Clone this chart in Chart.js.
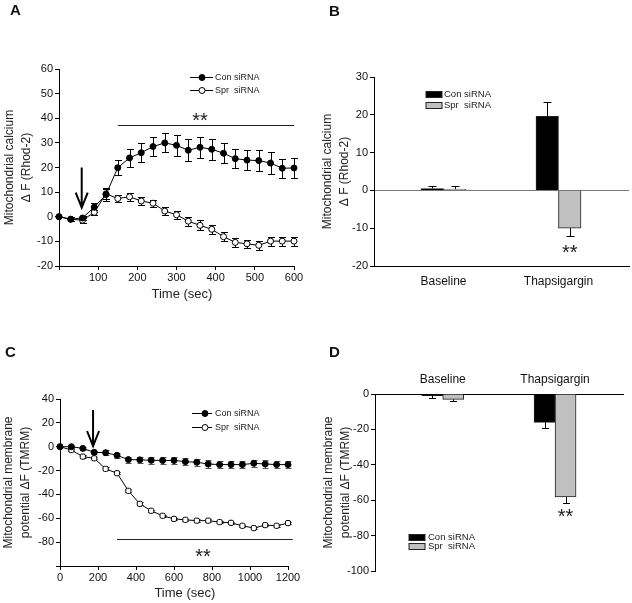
<!DOCTYPE html>
<html>
<head>
<meta charset="utf-8">
<title>Mitochondrial calcium and membrane potential</title>
<script src="https://cdn.jsdelivr.net/npm/chart.js@4.4.1/dist/chart.umd.min.js"></script>
<style>
  body { margin: 0; background: #fff; }
  #fig { position: relative; width: 632px; height: 603px; overflow: hidden; font-family: "Liberation Sans", Arial, sans-serif; }
  #fig canvas { position: absolute; left: 0; top: 0; }
  .panel { position: absolute; font-size: 15px; font-weight: bold; line-height: 1; color: #111; }
</style>
</head>
<body>
<div id="fig">
  <canvas id="chartA" width="632" height="603"></canvas>
  <canvas id="chartB" width="632" height="603"></canvas>
  <canvas id="chartC" width="632" height="603"></canvas>
  <canvas id="chartD" width="632" height="603"></canvas>
  <div class="panel" style="left:10px;top:2px">A</div>
  <div class="panel" style="left:329px;top:3px">B</div>
  <div class="panel" style="left:5px;top:344px">C</div>
  <div class="panel" style="left:329px;top:344px">D</div>
</div>
<script>
// series names
const seriesNames = ['Con siRNA', 'Spr  siRNA'];

// panel A - Rhod-2 time course (every 30 s)
const timeA = [0, 30, 60, 90, 120, 150, 180, 210, 240, 270, 300, 330, 360, 390, 420, 450, 480, 510, 540, 570, 600];
const conA = [0, -1, -0.5, 3.9, 9, 19.9, 23.9, 26, 28.5, 30, 29, 27, 28.2, 27.4, 25.8, 23.6, 23, 22.8, 21.8, 19.7, 19.8];
const conA_err = [0, 0.8, 1, 1.8, 2.5, 3, 3.5, 3.9, 3.8, 3.9, 4.3, 4.5, 4.3, 4.3, 4.1, 3.9, 4.2, 4.2, 4.3, 3.9, 3.9];
const sprA = [0, -1, -1.4, 1.8, 9.3, 7.4, 8.1, 6.4, 5.5, 2.3, 0.8, -1.8, -3.5, -5.1, -8.1, -10.4, -11, -11.6, -9.9, -9.9, -9.9];
const sprA_err = [0, 0.8, 1, 1, 2, 1.6, 1.6, 1.6, 1.5, 1.6, 1.6, 1.8, 2, 1.8, 1.8, 1.9, 1.6, 1.9, 1.8, 1.8, 1.8];

// panel C - TMRM time course (every 60 s)
const timeC = [0, 60, 120, 180, 240, 300, 360, 420, 480, 540, 600, 660, 720, 780, 840, 900, 960, 1020, 1080, 1140, 1200];
const conC = [0, 0, -1.4, -4.7, -5, -7.2, -10.8, -11, -11.4, -11.5, -11.5, -12.5, -13, -14.5, -15, -15, -15, -13.9, -14.5, -15, -15];
const conC_err = [0, 1, 1, 1.5, 2, 2, 2.5, 2.5, 3, 3, 3, 3, 3, 3, 3, 3, 3, 3, 3, 3, 3];
const sprC = [0, -2.8, -8.3, -9.7, -18.6, -22.2, -37, -47.9, -53.7, -57.9, -60.5, -61.3, -62, -62, -63.2, -63.8, -66.3, -68.2, -65.7, -66.3, -64];
const sprC_err = [0, 0.8, 1, 1, 1.2, 1, 1.2, 1.2, 1, 1, 1, 1, 1, 1, 1, 1, 1, 1, 1, 1, 1];

// panels B and D - bar summaries
const groups = ['Baseline', 'Thapsigargin'];
const conB = [0.5, 19.6];
const conB_err = [0.6, 3.9];
const sprB = [0.35, -10];
const sprB_err = [0.8, 2.1];
const conD = [-1, -16];
const conD_err = [1.1, 3.4];
const sprD = [-3, -58.2];
const sprD_err = [0.8, 3.1];

Chart.defaults.font.family = '"Liberation Sans", Arial, sans-serif';
Chart.defaults.font.size = 11;
Chart.defaults.color = '#111';

const FONT = '"Liberation Sans", Arial, sans-serif';

// pin axis box sizes so the plot areas land where the figure has them
const fixBox = size => scale => {
  if (scale.isHorizontal()) scale.height = size; else scale.width = size;
};

const errorBars = {
  id: 'errorBars',
  beforeDatasetsDraw(chart, args, opts) {
    const ctx = chart.ctx;
    const ys = chart.scales.y;
    chart.data.datasets.forEach((ds, di) => {
      if (!ds.errors) return;
      const meta = chart.getDatasetMeta(di);
      ctx.save();
      ctx.strokeStyle = ds.errorColor || '#000';
      ctx.lineWidth = 1;
      meta.data.forEach((el, i) => {
        const v = ds.data[i].y;
        const e = ds.errors[i];
        if (!e) return;
        const ends = ds.errorSide === 'out' ? [v + (v < 0 ? -e : e)] : [v + e, v - e];
        const y0 = ys.getPixelForValue(v);
        ends.forEach(end => {
          const y1 = Math.round(ys.getPixelForValue(end)) + 0.5;
          const x = Math.round(el.x) + 0.5;
          ctx.beginPath();
          ctx.moveTo(x, y0);
          ctx.lineTo(x, y1);
          ctx.moveTo(x - opts.cap, y1);
          ctx.lineTo(x + opts.cap, y1);
          ctx.stroke();
        });
      });
      ctx.restore();
    });
  }
};

const marks = {
  id: 'marks',
  afterDatasetsDraw(chart, args, opts) {
    const ctx = chart.ctx;
    const xs = chart.scales.x, ys = chart.scales.y;
    ctx.save();
    ctx.strokeStyle = '#222';
    ctx.fillStyle = '#222';
    if (opts.sig) {
      const y = Math.round(ys.getPixelForValue(opts.sig.y)) + 0.5;
      ctx.lineWidth = 1;
      ctx.beginPath();
      ctx.moveTo(xs.getPixelForValue(opts.sig.from), y);
      ctx.lineTo(xs.getPixelForValue(opts.sig.to), y);
      ctx.stroke();
    }
    (opts.stars || []).forEach(s => {
      const px = s.dataset !== undefined
        ? chart.getDatasetMeta(s.dataset).data[s.index].x
        : xs.getPixelForValue(s.x);
      const py = ys.getPixelForValue(s.y);
      ctx.font = '20px ' + FONT;
      ctx.textAlign = 'center';
      ctx.textBaseline = 'alphabetic';
      ctx.fillText('**', px, py + 0.57 * 20);
    });
    if (opts.arrow) {
      const x = xs.getPixelForValue(opts.arrow.x);
      const top = ys.getPixelForValue(opts.arrow.top);
      const tip = ys.getPixelForValue(opts.arrow.tip);
      ctx.strokeStyle = '#000';
      ctx.lineWidth = 2;
      ctx.beginPath();
      ctx.moveTo(x, top);
      ctx.lineTo(x, tip);
      ctx.moveTo(x - 6, tip - 15);
      ctx.lineTo(x, tip);
      ctx.lineTo(x + 6, tip - 15);
      ctx.stroke();
    }
    ctx.restore();
  }
};

const key = {
  id: 'key',
  afterDraw(chart, args, opts) {
    const ctx = chart.ctx;
    const area = chart.chartArea;
    const x0 = area.left + opts.dx;
    ctx.save();
    ctx.font = opts.size + 'px ' + FONT;
    ctx.textBaseline = 'middle';
    ctx.textAlign = 'left';
    chart.data.datasets.forEach((ds, i) => {
      const y = Math.round(area.top + opts.dy + i * opts.gap) + 0.5;
      if (opts.kind === 'line') {
        ctx.strokeStyle = '#000';
        ctx.lineWidth = 1;
        ctx.beginPath();
        ctx.moveTo(x0, y);
        ctx.lineTo(x0 + opts.len, y);
        ctx.stroke();
        ctx.beginPath();
        ctx.arc(x0 + opts.mark, y, 3, 0, Math.PI * 2);
        ctx.fillStyle = ds.pointBackgroundColor;
        ctx.fill();
        ctx.stroke();
      } else {
        ctx.fillStyle = ds.backgroundColor;
        ctx.fillRect(x0, y - opts.h / 2, opts.w, opts.h);
        ctx.strokeStyle = '#222';
        ctx.lineWidth = 1;
        ctx.strokeRect(x0, y - opts.h / 2, opts.w, opts.h);
      }
      ctx.fillStyle = '#222';
      ctx.fillText(ds.label, x0 + opts.text, y);
    });
    ctx.restore();
  }
};

function lineSet(label, xs, ys, errs, filled, style, errColor) {
  return {
    label: label,
    data: xs.map((x, i) => ({ x: x, y: ys[i] })),
    errors: errs,
    errorColor: errColor || '#000',
    borderColor: '#000',
    borderWidth: 1,
    pointStyle: style,
    pointRadius: 3,
    pointBorderWidth: 1,
    pointBackgroundColor: filled ? '#000' : '#fff',
    pointBorderColor: '#000',
    tension: 0,
    clip: false
  };
}

function barSet(label, vals, errs, fill, thick) {
  return {
    label: label,
    data: groups.map((g, i) => ({ x: i, y: vals[i] })),
    errors: errs,
    errorSide: 'out',
    backgroundColor: fill,
    borderColor: '#222',
    borderWidth: 1,
    barThickness: thick
  };
}

const tickGrid = { drawOnChartArea: false, tickLength: 4, color: '#000', tickColor: '#000' };
const blackBorder = { color: '#000', width: 1 };

function yTitle(lines, padTop) {
  return { display: true, text: lines, color: '#222', font: { size: 12, lineHeight: 1.4 }, padding: { top: padTop, bottom: 0 } };
}

// the figure's time labels sit a little right of the plot centre
function timeTitle(lead) {
  return { display: true, text: ' '.repeat(lead) + 'Time (sec)', color: '#222', font: { size: 13 }, padding: { top: 0, bottom: 0 } };
}

const baseOpts = { responsive: false, animation: false, events: [] };

// A
new Chart(document.getElementById('chartA'), {
  type: 'line',
  data: {
    datasets: [
      lineSet(seriesNames[0], timeA, conA, conA_err, true, 'circle'),
      lineSet(seriesNames[1], timeA, sprA, sprA_err, false, 'circle')
    ]
  },
  options: Object.assign({}, baseOpts, {
    layout: { padding: { left: 0, top: 69, right: 338, bottom: 301 } },
    plugins: {
      legend: { display: false }, tooltip: { enabled: false },
      errorBars: { cap: 3.5 },
      marks: { sig: { from: 150, to: 600, y: 37.4 }, stars: [{ x: 360, y: 41 }], arrow: { x: 58, top: 20, tip: 3.7 } },
      key: { kind: 'line', dx: 131, dy: 8, gap: 13, len: 23, mark: 12, text: 25, size: 9 }
    },
    scales: {
      x: {
        type: 'linear', min: 0, max: 600,
        ticks: { stepSize: 100, padding: 1, callback: v => (v === 0 ? '' : String(v)) },
        grid: tickGrid, border: blackBorder,
        title: timeTitle(3),
        afterFit: fixBox(36)
      },
      y: {
        min: -20, max: 60,
        ticks: { stepSize: 10, padding: 2 },
        grid: tickGrid, border: blackBorder,
        title: yTitle(['Mitochondrial calcium', '\u0394 F (Rhod-2)'], 1.5),
        afterFit: fixBox(59)
      }
    }
  }),
  plugins: [errorBars, marks, key]
});

// B
new Chart(document.getElementById('chartB'), {
  type: 'bar',
  data: {
    datasets: [
      barSet(seriesNames[0], conB, conB_err, '#000', 22.5),
      barSet(seriesNames[1], sprB, sprB_err, '#c0c0c0', 22.5)
    ]
  },
  options: Object.assign({}, baseOpts, {
    layout: { padding: { left: 318, top: 77, right: 3, bottom: 307 } },
    plugins: {
      legend: { display: false }, tooltip: { enabled: false },
      errorBars: { cap: 4 },
      marks: { stars: [{ dataset: 1, index: 1, y: -15 }] },
      key: { kind: 'box', dx: 52, dy: 17, gap: 10.5, w: 16, h: 6, text: 18, size: 9.5 }
    },
    scales: {
      x: {
        type: 'linear', min: -0.604, max: 1.613, offset: false,
        afterBuildTicks: axis => { axis.ticks = groups.map((g, i) => ({ value: i })); },
        ticks: { padding: 8, font: { size: 12 }, autoSkip: false, maxRotation: 0, callback: v => groups[v] },
        grid: { display: false, drawTicks: false },
        border: blackBorder,
        afterFit: fixBox(30)
      },
      y: {
        min: -20, max: 30,
        ticks: { stepSize: 10, padding: 2 },
        grid: {
          drawOnChartArea: true, tickLength: 4, tickColor: '#000',
          color: c => (c.tick && c.tick.value === 0 ? '#777' : 'rgba(0,0,0,0)')
        },
        border: blackBorder,
        title: yTitle(['Mitochondrial calcium', '\u0394 F (Rhod-2)'], 1.2),
        afterFit: fixBox(56)
      }
    }
  }),
  plugins: [errorBars, marks, key]
});

// C
new Chart(document.getElementById('chartC'), {
  type: 'line',
  data: {
    datasets: [
      lineSet(seriesNames[0], timeC, conC, conC_err, true, 'circle', '#555'),
      lineSet(seriesNames[1], timeC, sprC, sprC_err, false, 'rectRounded')
    ]
  },
  options: Object.assign({}, baseOpts, {
    layout: { padding: { left: 0, top: 399, right: 344, bottom: 2 } },
    plugins: {
      legend: { display: false }, tooltip: { enabled: false },
      errorBars: { cap: 3 },
      marks: { sig: { from: 300, to: 1225, y: -77.4 }, stars: [{ x: 753, y: -87.7 }], arrow: { x: 174, top: 30.7, tip: 0.6 } },
      key: { kind: 'line', dx: 132, dy: 14, gap: 14, len: 20, mark: 13, text: 23, size: 9 }
    },
    scales: {
      x: {
        type: 'linear', min: 0, max: 1200,
        ticks: { stepSize: 200, padding: 1, callback: v => String(v) },
        grid: tickGrid, border: blackBorder,
        title: timeTitle(6),
        afterFit: fixBox(35)
      },
      y: {
        min: -100, max: 40,
        ticks: { stepSize: 20, padding: 2, callback: v => (v === -100 ? '' : String(v)) },
        grid: tickGrid, border: blackBorder,
        title: yTitle(['Mitochondrial membrane', 'potential \u0394F (TMRM)'], 0.5),
        afterFit: fixBox(60)
      }
    }
  }),
  plugins: [errorBars, marks, key]
});

// D
new Chart(document.getElementById('chartD'), {
  type: 'bar',
  data: {
    datasets: [
      barSet(seriesNames[0], conD, conD_err, '#000', 21),
      barSet(seriesNames[1], sprD, sprD_err, '#c0c0c0', 21)
    ]
  },
  options: Object.assign({}, baseOpts, {
    layout: { padding: { left: 319, top: 350, right: 9, bottom: 32 } },
    plugins: {
      legend: { display: false }, tooltip: { enabled: false },
      errorBars: { cap: 3.5 },
      marks: { stars: [{ dataset: 1, index: 1, y: -66.5 }] },
      key: { kind: 'box', dx: 34, dy: 143, gap: 9, w: 16, h: 6, text: 19, size: 9.5 }
    },
    scales: {
      x: {
        type: 'linear', position: 'top', min: -0.603, max: 1.605, offset: false,
        afterBuildTicks: axis => { axis.ticks = groups.map((g, i) => ({ value: i })); },
        ticks: { padding: 7.5, font: { size: 12 }, autoSkip: false, maxRotation: 0, callback: v => groups[v] },
        grid: { display: false, drawTicks: false },
        border: blackBorder,
        afterFit: fixBox(44)
      },
      y: {
        min: -100, max: 0,
        ticks: { stepSize: 20, padding: 2 },
        grid: tickGrid, border: blackBorder,
        title: yTitle(['Mitochondrial membrane', 'potential \u0394F (TMRM)'], 1.6),
        afterFit: fixBox(56)
      }
    }
  }),
  plugins: [errorBars, marks, key]
});
</script>
</body>
</html>
